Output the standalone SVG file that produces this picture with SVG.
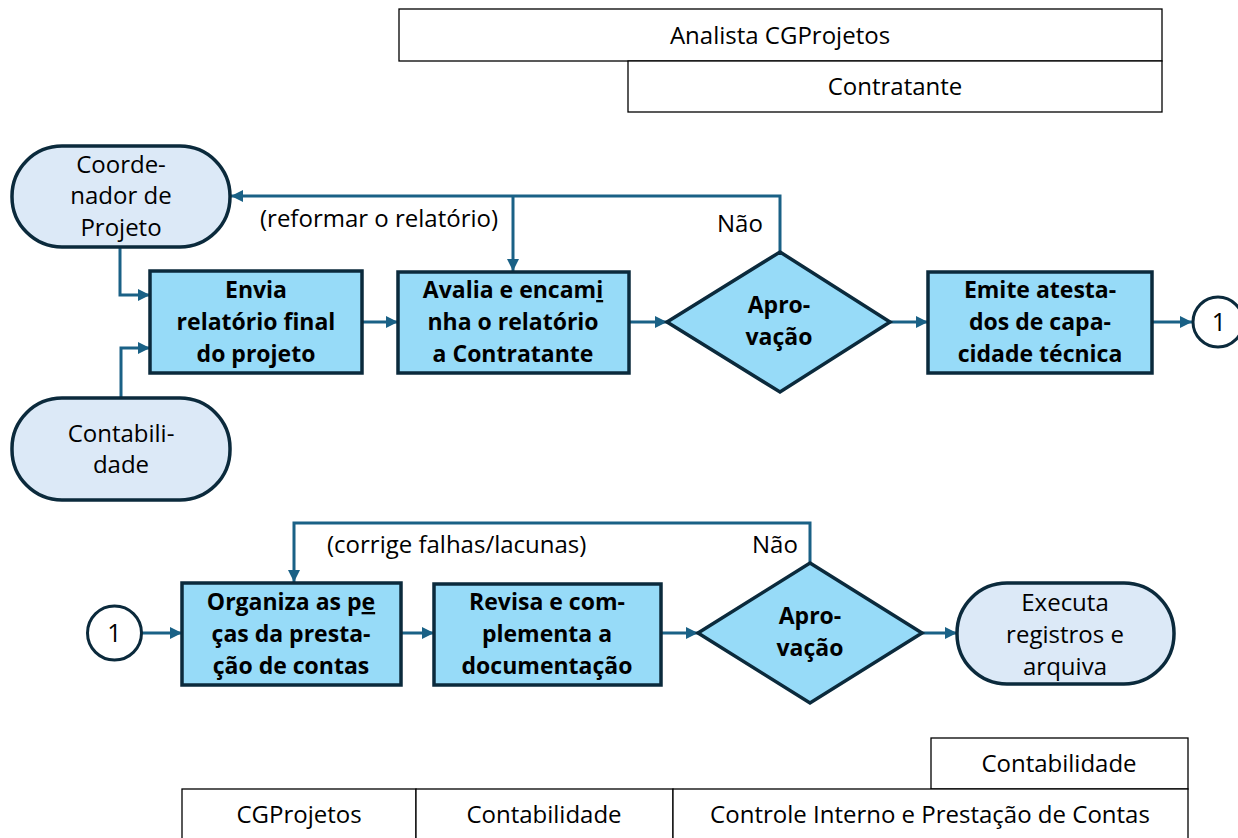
<svg xmlns="http://www.w3.org/2000/svg" width="1238" height="838" viewBox="0 0 1238 838">
<defs>
<marker id="ah" viewBox="0 0 12 12" refX="12" refY="6" markerWidth="12" markerHeight="12" markerUnits="userSpaceOnUse" orient="auto">
<path d="M0,0 L12,6 L0,12 Z" fill="#1A6186"/>
</marker>
<style>
.tbl{fill:#fff;stroke:#000;stroke-width:1.3}
.t{font-family:"Open Sans","Liberation Sans",sans-serif;font-size:24px;fill:#000;text-anchor:middle}
.lbl{font-family:"Open Sans","Liberation Sans",sans-serif;font-size:24px;fill:#000}
.b{font-family:"Open Sans","Liberation Sans",sans-serif;font-size:23px;font-weight:bold;fill:#000;text-anchor:middle}
.box{fill:#97DBF8;stroke:#0B2A3C;stroke-width:3.5}
.pill{fill:#DCE9F7;stroke:#0B2A3C;stroke-width:3.5}
.con{fill:#fff;stroke:#0B2A3C;stroke-width:3}
.ca{fill:none;stroke:#1A6186;stroke-width:3;marker-end:url(#ah)}
</style>
</defs>
<g id="table-top">
<rect class="tbl" x="399" y="9" width="763" height="52"/>
<text class="t" x="780" y="44">Analista CGProjetos</text>
<rect class="tbl" x="628" y="61" width="534" height="51"/>
<text class="t" x="895" y="95">Contratante</text>
</g>
<g id="table-bottom">
<rect class="tbl" x="931" y="738" width="257" height="51"/>
<text class="t" x="1059" y="772">Contabilidade</text>
<rect class="tbl" x="182" y="789" width="234" height="52"/>
<rect class="tbl" x="416" y="789" width="257" height="52"/>
<rect class="tbl" x="673" y="789" width="515" height="52"/>
<text class="t" x="299" y="823">CGProjetos</text>
<text class="t" x="544" y="823">Contabilidade</text>
<text class="t" x="930" y="823">Controle Interno e Prestação de Contas</text>
</g>
<g id="connectors">
<polyline class="ca" points="120,247 120,295 150,295"/>
<polyline class="ca" points="121,398 121,348 150,348"/>
<line class="ca" x1="362" y1="322" x2="398" y2="322"/>
<line class="ca" x1="629" y1="322" x2="667" y2="322"/>
<line class="ca" x1="890" y1="322" x2="928" y2="322"/>
<line class="ca" x1="1152" y1="322" x2="1192" y2="322"/>
<polyline class="ca" points="780,252 780,196 231,196"/>
<line class="ca" x1="513" y1="196" x2="513" y2="271"/>
<line class="ca" x1="142" y1="633" x2="182" y2="633"/>
<line class="ca" x1="401" y1="633" x2="434" y2="633"/>
<line class="ca" x1="661" y1="633" x2="698" y2="633"/>
<line class="ca" x1="922" y1="633" x2="957" y2="633"/>
<polyline class="ca" points="810,563 810,523 294,523 294,582"/>
<text class="lbl" x="260" y="227">(reformar o relatório)</text>
<text class="lbl" x="717" y="232">Não</text>
<text class="lbl" x="327" y="553">(corrige falhas/lacunas)</text>
<text class="lbl" x="752" y="553">Não</text>
</g>
<g id="coordenador">
<rect class="pill" x="12" y="146" width="218" height="101" rx="50"/>
<text class="t" x="121" y="173">Coorde-</text>
<text class="t" x="121" y="204">nador de</text>
<text class="t" x="121" y="236">Projeto</text>
</g>
<g id="contabilidade">
<rect class="pill" x="12" y="398" width="218" height="102" rx="50"/>
<text class="t" x="121" y="442">Contabili-</text>
<text class="t" x="121" y="473">dade</text>
</g>
<g id="envia">
<rect class="box" x="150" y="271" width="212" height="102"/>
<text class="b" x="256" y="298">Envia</text>
<text class="b" x="256" y="330">relatório final</text>
<text class="b" x="256" y="362">do projeto</text>
</g>
<g id="avalia">
<rect class="box" x="398" y="272" width="231" height="101"/>
<text class="b" x="513" y="298">Avalia e encam<tspan text-decoration="underline">i</tspan></text>
<text class="b" x="513" y="330">nha o relatório</text>
<text class="b" x="513" y="362">a Contratante</text>
</g>
<g id="aprovacao1">
<polygon class="box" points="780,252 890,322 780,392 667,322"/>
<text class="b" x="779" y="313">Apro-</text>
<text class="b" x="779" y="345">vação</text>
</g>
<g id="emite">
<rect class="box" x="928" y="272" width="224" height="101"/>
<text class="b" x="1040" y="298">Emite atesta-</text>
<text class="b" x="1040" y="330">dos de capa-</text>
<text class="b" x="1040" y="362">cidade técnica</text>
</g>
<g id="conector1a">
<circle class="con" cx="1218" cy="322" r="25"/>
<text class="t" x="1219" y="331" style="font-size:25px">1</text>
</g>
<g id="conector1b">
<circle class="con" cx="114.5" cy="633" r="27"/>
<text class="t" x="114.5" y="642" style="font-size:25px">1</text>
</g>
<g id="organiza">
<rect class="box" x="182" y="583" width="219" height="102"/>
<text class="b" x="291" y="610">Organiza as p<tspan text-decoration="underline">e</tspan></text>
<text class="b" x="291" y="642">ças da presta-</text>
<text class="b" x="291" y="674">ção de contas</text>
</g>
<g id="revisa">
<rect class="box" x="434" y="584" width="227" height="101"/>
<text class="b" x="547" y="610">Revisa e com-</text>
<text class="b" x="547" y="642">plementa a</text>
<text class="b" x="547" y="674">documentação</text>
</g>
<g id="aprovacao2">
<polygon class="box" points="810,563 922,633 810,703 698,633"/>
<text class="b" x="810" y="624">Apro-</text>
<text class="b" x="810" y="656">vação</text>
</g>
<g id="executa">
<rect class="pill" x="957" y="583" width="217" height="101" rx="50"/>
<text class="t" x="1065" y="611">Executa</text>
<text class="t" x="1065" y="643">registros e</text>
<text class="t" x="1065" y="675">arquiva</text>
</g>
</svg>
